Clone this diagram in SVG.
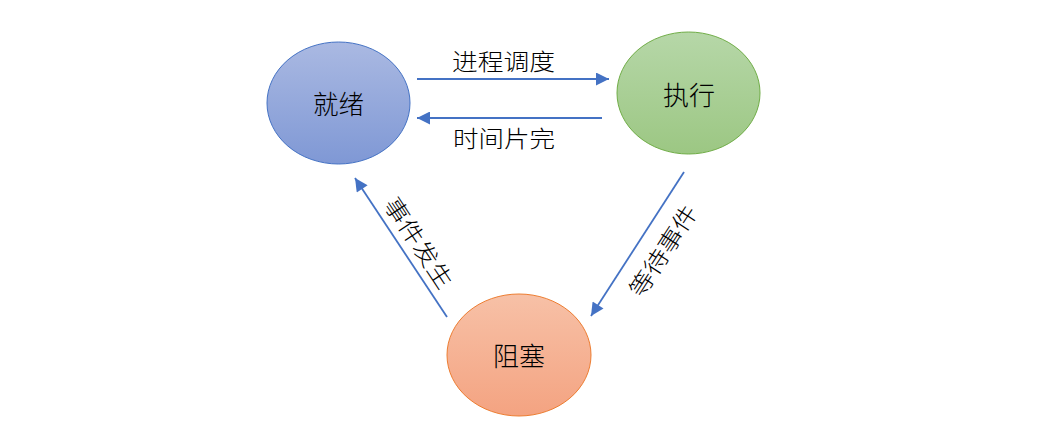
<svg xmlns="http://www.w3.org/2000/svg" width="1039" height="443" viewBox="0 0 1039 443">
<defs>
<linearGradient id="gBlue" x1="0" y1="0" x2="0" y2="1"><stop offset="0" stop-color="#AAB9E2"/><stop offset="1" stop-color="#7F98D5"/></linearGradient>
<linearGradient id="gGreen" x1="0" y1="0" x2="0" y2="1"><stop offset="0" stop-color="#B6D7A8"/><stop offset="1" stop-color="#9CC783"/></linearGradient>
<linearGradient id="gOrange" x1="0" y1="0" x2="0" y2="1"><stop offset="0" stop-color="#F7C1A7"/><stop offset="1" stop-color="#F4A381"/></linearGradient>
<marker id="arr" viewBox="0 0 10 10" refX="10" refY="5" markerWidth="15" markerHeight="13" markerUnits="userSpaceOnUse" orient="auto"><path d="M0,0 L10,5 L0,10 Z" fill="#4472C4"/></marker>
</defs>
<style>
.lbl{font-family:"Noto Sans CJK SC","Microsoft YaHei",sans-serif;fill:#000;text-anchor:middle;dominant-baseline:central;font-weight:300}
.node{font-size:26px}
.edge{font-size:23px}
.conn{stroke:#4472C4;stroke-width:1.8;fill:none;marker-end:url(#arr)}
</style>
<rect width="1039" height="443" fill="#fff"/>
<g id="node-ready">
<ellipse cx="338.5" cy="103" rx="71.5" ry="61" fill="url(#gBlue)" stroke="#4472C4" stroke-width="1"/>
<text class="lbl node" x="338.5" y="102" textLength="51" lengthAdjust="spacingAndGlyphs">就绪</text>
</g>
<g id="node-running">
<ellipse cx="688.5" cy="93" rx="71.5" ry="61" fill="url(#gGreen)" stroke="#70AD47" stroke-width="1"/>
<text class="lbl node" x="689" y="93" textLength="52" lengthAdjust="spacingAndGlyphs">执行</text>
</g>
<g id="node-blocked">
<ellipse cx="519" cy="355" rx="72" ry="61" fill="url(#gOrange)" stroke="#ED7D31" stroke-width="1"/>
<text class="lbl node" x="519" y="354" textLength="52" lengthAdjust="spacingAndGlyphs">阻塞</text>
</g>
<g id="connectors">
<line class="conn" x1="417" y1="79" x2="609" y2="79"/>
<line class="conn" x1="602" y1="118" x2="417" y2="118"/>
<line class="conn" x1="684" y1="172" x2="591" y2="316"/>
<line class="conn" x1="447" y1="317" x2="355" y2="178"/>
<text class="lbl edge" x="503.5" y="60" textLength="103" lengthAdjust="spacingAndGlyphs">进程调度</text>
<text class="lbl edge" x="504" y="137" textLength="102" lengthAdjust="spacingAndGlyphs">时间片完</text>
<text class="lbl edge" transform="translate(420,242) rotate(56.5)" x="0" y="0" textLength="104" lengthAdjust="spacingAndGlyphs">事件发生</text>
<text class="lbl edge" transform="translate(662,250) rotate(-57)" x="0" y="0" textLength="104" lengthAdjust="spacingAndGlyphs">等待事件</text>
</g>
</svg>
